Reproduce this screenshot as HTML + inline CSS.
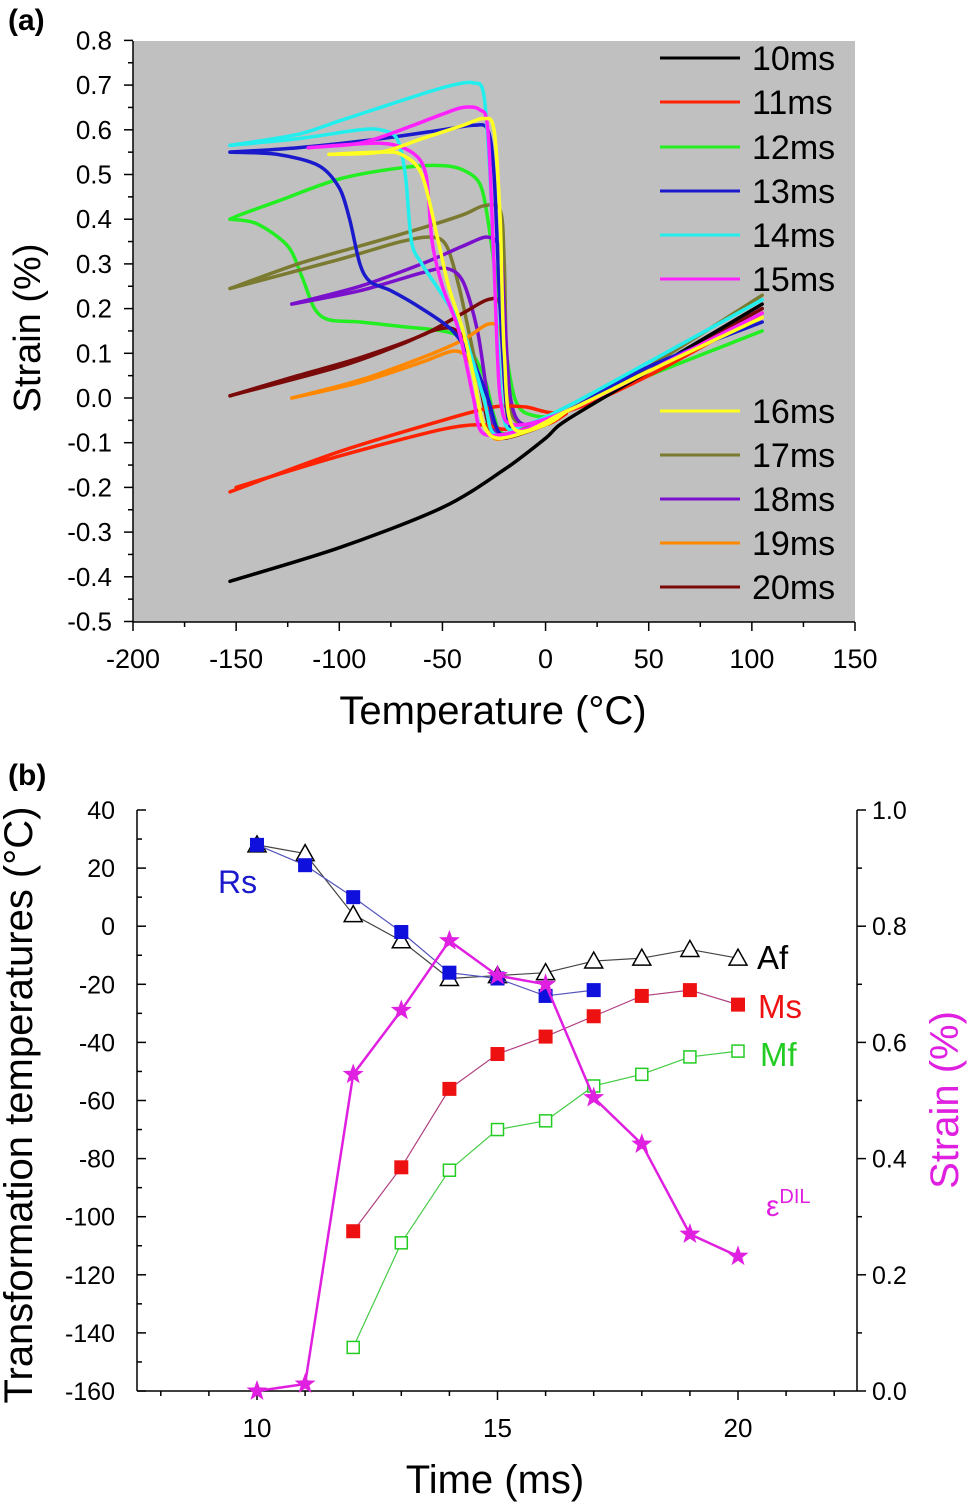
<!DOCTYPE html>
<html><head><meta charset="utf-8">
<style>
body{margin:0;background:#fff;}
svg{display:block;font-family:"Liberation Sans",sans-serif;}
</style></head>
<body>
<svg id="fig" width="969" height="1503" viewBox="0 0 969 1503">
<text x="8" y="30" font-size="30" font-weight="bold">(a)</text>
<text x="8" y="785" font-size="30" font-weight="bold">(b)</text>
<g id="pa"></g>
<g id="pb"></g>
</svg>
<script>
// ---------- Panel (a) data ----------
const aXTicks = [-200,-150,-100,-50,0,50,100,150];
const aYTicks = [0.8,0.7,0.6,0.5,0.4,0.3,0.2,0.1,0.0,-0.1,-0.2,-0.3,-0.4,-0.5];
const aSeriesNames = ["10ms","11ms","12ms","13ms","14ms","15ms","16ms","17ms","18ms","19ms","20ms"];
const aColors = ["#000000","#ff2200","#22ee22","#1a1acc","#22eeee","#ff22ff","#ffff22","#7a7a30","#7a10cc","#ff8800","#7a0a0a"];
const s10 = [[-153,-0.41],[-100,-0.335],[-50,-0.245],[-20,-0.16],[0,-0.09],[10,-0.05],[50,0.06],[105,0.21]];
const s11u = [[-153,-0.21],[-100,-0.12],[-50,-0.05],[-25,-0.02],[-10,-0.02],[10,-0.03],[50,0.05],[105,0.19]];
const s11l = [[-150,-0.2],[-100,-0.13],[-50,-0.07],[-30,-0.06],[-20,-0.07],[0,-0.06],[10,-0.035]];
const s12u = [[-153,0.40],[-148,0.41],[-130,0.44],[-100,0.49],[-70,0.515],[-50,0.52],[-40,0.51],[-32,0.48],[-28,0.4],[-22,0.2],[-15,0.0],[-5,-0.04],[10,-0.03],[50,0.05],[105,0.15]];
const s12l = [[-153,0.40],[-140,0.39],[-125,0.34],[-118,0.27],[-112,0.2],[-105,0.175],[-90,0.17],[-70,0.16],[-50,0.15],[-40,0.13],[-30,0.05],[-25,-0.04],[-20,-0.08],[0,-0.06],[10,-0.03]];
const s13u = [[-153,0.55],[-120,0.56],[-80,0.58],[-50,0.6],[-35,0.61],[-28,0.6],[-25,0.5],[-22,0.2],[-18,-0.05],[-10,-0.06],[10,-0.03],[50,0.07],[105,0.17]];
const s13l = [[-153,0.55],[-130,0.545],[-110,0.52],[-100,0.47],[-95,0.4],[-90,0.3],[-85,0.26],[-75,0.24],[-60,0.2],[-45,0.15],[-35,0.08],[-28,0.0],[-22,-0.08],[-10,-0.07],[10,-0.03]];
const s14u = [[-153,0.565],[-120,0.59],[-100,0.62],[-80,0.65],[-60,0.68],[-45,0.7],[-35,0.705],[-30,0.68],[-27,0.5],[-24,0.2],[-20,-0.05],[-10,-0.06],[10,-0.02],[50,0.08],[105,0.22]];
const s14l = [[-153,0.565],[-120,0.58],[-90,0.6],[-80,0.6],[-72,0.58],[-68,0.5],[-65,0.35],[-60,0.3],[-50,0.23],[-40,0.15],[-30,0.0],[-25,-0.08],[-10,-0.07],[10,-0.03]];
const s15u = [[-115,0.56],[-90,0.57],[-70,0.6],[-50,0.635],[-40,0.65],[-32,0.645],[-28,0.6],[-25,0.3],[-22,0.0],[-15,-0.06],[10,-0.03],[50,0.06],[105,0.19]];
const s15l = [[-115,0.56],[-80,0.57],[-65,0.55],[-58,0.5],[-55,0.35],[-50,0.25],[-42,0.15],[-35,0.0],[-30,-0.08],[-10,-0.07],[10,-0.03]];
const s16u = [[-105,0.545],[-80,0.55],[-60,0.58],[-40,0.61],[-30,0.625],[-25,0.6],[-22,0.4],[-20,0.1],[-15,-0.07],[10,-0.03],[50,0.06],[105,0.18]];
const s16l = [[-105,0.545],[-80,0.55],[-70,0.545],[-60,0.5],[-52,0.35],[-47,0.25],[-40,0.15],[-35,0.05],[-30,-0.06],[-22,-0.09],[0,-0.06],[10,-0.03]];
const s17u = [[-153,0.245],[-120,0.3],[-90,0.34],[-60,0.38],[-40,0.41],[-30,0.43],[-22,0.42],[-20,0.3],[-18,0.0],[-10,-0.06],[10,-0.03],[50,0.07],[105,0.23]];
const s17l = [[-153,0.245],[-100,0.31],[-70,0.35],[-55,0.36],[-48,0.34],[-42,0.25],[-35,0.1],[-30,0.0],[-25,-0.08],[-10,-0.07],[10,-0.03]];
const s18u = [[-123,0.21],[-90,0.25],[-60,0.3],[-40,0.34],[-28,0.36],[-22,0.33],[-20,0.2],[-17,0.0],[-10,-0.06],[10,-0.03],[50,0.06],[105,0.2]];
const s18l = [[-123,0.21],[-90,0.24],[-60,0.28],[-48,0.29],[-40,0.26],[-33,0.15],[-28,0.0],[-24,-0.08],[-10,-0.07],[10,-0.03]];
const s19u = [[-123,0.0],[-90,0.04],[-60,0.09],[-40,0.13],[-28,0.165],[-22,0.15],[-20,0.05],[-18,-0.05],[-10,-0.07],[10,-0.03],[50,0.06],[105,0.18]];
const s19l = [[-123,0.0],[-90,0.035],[-60,0.08],[-45,0.105],[-38,0.09],[-32,0.03],[-28,-0.04],[-25,-0.09],[-15,-0.08],[10,-0.03]];
const s20u = [[-153,0.005],[-120,0.05],[-90,0.09],[-60,0.14],[-40,0.19],[-28,0.22],[-22,0.21],[-20,0.1],[-18,-0.05],[-10,-0.07],[10,-0.03],[50,0.06],[105,0.2]];
const s20l = [[-153,0.005],[-100,0.07],[-70,0.12],[-55,0.15],[-45,0.155],[-38,0.12],[-32,0.03],[-27,-0.07],[-20,-0.09],[0,-0.06],[10,-0.03]];
const aCurves = [[s10],[s11u,s11l],[s12u,s12l],[s13u,s13l],[s14u,s14l],[s15u,s15l],[s16u,s16l],[s17u,s17l],[s18u,s18l],[s19u,s19l],[s20u,s20l]];
const aLegendY = [58,102,147,191,235,279,411,455,499,543,587];

// ---------- Panel (b) data ----------
const bTime = [10,11,12,13,14,15,16,17,18,19,20];
const bAf = [28,25,4,-5,-18,-17,-16,-12,-11,-8,-11];
const bRsT = [10,11,12,13,14,15,16,17];
const bRs = [28,21,10,-2,-16,-18,-24,-22];
const bMsT = [12,13,14,15,16,17,18,19,20];
const bMs = [-105,-83,-56,-44,-38,-31,-24,-22,-27];
const bMf = [-145,-109,-84,-70,-67,-55,-51,-45,-43];
const bStrain = [0,0.012,0.545,0.655,0.775,0.715,0.7,0.505,0.425,0.27,0.232];
const bXTicks = [10,15,20];
const bYTicks = [40,20,0,-20,-40,-60,-80,-100,-120,-140,-160];
const bY2Ticks = [1.0,0.8,0.6,0.4,0.2,0.0];

const NS="http://www.w3.org/2000/svg";
function mk(p,tag,at){const e=document.createElementNS(NS,tag);for(const k in at)e.setAttribute(k,at[k]);p.appendChild(e);return e;}
function smooth(pts){
 let d='M'+pts[0][0].toFixed(1)+','+pts[0][1].toFixed(1);
 const k=0.15;
 for(let i=0;i<pts.length-1;i++){
  const p0=pts[Math.max(0,i-1)],p1=pts[i],p2=pts[i+1],p3=pts[Math.min(pts.length-1,i+2)];
  const c1=[p1[0]+(p2[0]-p0[0])*k,p1[1]+(p2[1]-p0[1])*k];
  const c2=[p2[0]-(p3[0]-p1[0])*k,p2[1]-(p3[1]-p1[1])*k];
  d+=' C'+c1.map(v=>v.toFixed(1)).join(',')+' '+c2.map(v=>v.toFixed(1)).join(',')+' '+p2.map(v=>v.toFixed(1)).join(',');
 }
 return d;
}

// ---- Panel a ----
const pa=document.getElementById('pa');
const ax=t=>133+(t+200)*(855-133)/350;
const ay=v=>398-v*447;
let r=mk(pa,'rect',{x:133,y:41,width:722,height:581,fill:'#c0c0c0'});


mk(pa,'line',{x1:133,y1:41,x2:133,y2:622,stroke:'#000','stroke-width':1.5});
mk(pa,'line',{x1:133,y1:622,x2:855,y2:622,stroke:'#000','stroke-width':1.5});
for(let t=-200;t<=150;t+=25){const maj=t%50===0;mk(pa,'line',{x1:ax(t),y1:622,x2:ax(t),y2:622+(maj?9:5),stroke:'#000','stroke-width':1.5});}
aXTicks.forEach(t=>{const e=mk(pa,'text',{x:ax(t),y:668,'font-size':27,'text-anchor':'middle'});e.textContent=t;
});
for(let i=0;i<=26;i++){const v=-0.5+i*0.05;const maj=i%2===0;mk(pa,'line',{x1:133,y1:ay(v),x2:133-(maj?9:5),y2:ay(v),stroke:'#000','stroke-width':1.5});}
aYTicks.forEach(v=>{const e=mk(pa,'text',{x:112,y:ay(v)+9,'font-size':26,'text-anchor':'end'});e.textContent=v.toFixed(1);
});
let xt=mk(pa,'text',{x:493,y:724,'font-size':40,'text-anchor':'middle'});xt.textContent='Temperature (°C)';

let yt=mk(pa,'text',{x:40,y:328,'font-size':38,'text-anchor':'middle',transform:'rotate(-90 40 328)'});yt.textContent='Strain (%)';

const order=[2,7,8,10,9,1,0,3,4,5,6];
order.forEach(i=>{aCurves[i].forEach(c=>{
 const d=smooth(c.map(p=>[ax(p[0]),ay(p[1])]));
 const e=mk(pa,'path',{d:d,fill:'none',stroke:aColors[i],'stroke-width':3.5,'stroke-linejoin':'round','stroke-linecap':'round'});
 
 
});});
aSeriesNames.forEach((n,i)=>{
 const g=mk(pa,'g',{});
 
 
 mk(g,'line',{x1:660,y1:aLegendY[i],x2:740,y2:aLegendY[i],stroke:aColors[i],'stroke-width':3});
 const t=mk(g,'text',{x:752,y:aLegendY[i]+12,'font-size':34});t.textContent=n;
});

// ---- Panel b ----
const pb=document.getElementById('pb');
const bx=t=>257+(t-10)*48.1;
const by=v=>810+(40-v)*581/200;
const by2=v=>1391-v*581;
mk(pb,'line',{x1:137,y1:810,x2:137,y2:1391,stroke:'#000','stroke-width':1.5});
mk(pb,'line',{x1:857,y1:810,x2:857,y2:1391,stroke:'#000','stroke-width':1.5});
mk(pb,'line',{x1:137,y1:1391,x2:857,y2:1391,stroke:'#000','stroke-width':1.5});
for(let v=-160;v<=40;v+=10){const maj=v%20===0;mk(pb,'line',{x1:137,y1:by(v),x2:137+(maj?9:5),y2:by(v),stroke:'#000','stroke-width':1.5});}
bYTicks.forEach(v=>{const e=mk(pb,'text',{x:115,y:by(v)+9,'font-size':25,'text-anchor':'end'});e.textContent=v;
});
for(let i=0;i<=10;i++){const v=i*0.1;const maj=i%2===0;mk(pb,'line',{x1:857,y1:by2(v),x2:857+(maj?9:5),y2:by2(v),stroke:'#000','stroke-width':1.5});}
bY2Ticks.forEach(v=>{const e=mk(pb,'text',{x:872,y:by2(v)+9,'font-size':25});e.textContent=v.toFixed(1);
});
for(let t=8;t<=22;t++){const maj=t%5===0;mk(pb,'line',{x1:bx(t),y1:1391,x2:bx(t),y2:1391+(maj?9:5),stroke:'#000','stroke-width':1.5});}
bXTicks.forEach(t=>{const e=mk(pb,'text',{x:bx(t),y:1437,'font-size':26,'text-anchor':'middle'});e.textContent=t;
});
let xt2=mk(pb,'text',{x:495,y:1493,'font-size':40,'text-anchor':'middle'});xt2.textContent='Time (ms)';

let yt2=mk(pb,'text',{x:32,y:1105,'font-size':40,'text-anchor':'middle',transform:'rotate(-90 32 1105)'});yt2.textContent='Transformation temperatures (°C)';

let yt3=mk(pb,'text',{x:958,y:1100,'font-size':40,'text-anchor':'middle',fill:'#e020e0',transform:'rotate(-90 958 1100)'});yt3.textContent='Strain (%)';


function series(xs,ys,yf,color,lw,name,marker,fillc){
 const g=mk(pb,'g',{});
 
 
 mk(g,'polyline',{points:xs.map((x,i)=>bx(x)+','+yf(ys[i])).join(' '),fill:'none',stroke:color,'stroke-width':lw});
 xs.forEach((x,i)=>{const cx=bx(x),cy=yf(ys[i]);
  if(marker==='tri')mk(g,'polygon',{points:`${cx},${cy-9} ${cx-9},${cy+7} ${cx+9},${cy+7}`,fill:'#fff',stroke:'#000','stroke-width':1.5});
  else if(marker==='sqf')mk(g,'rect',{x:cx-7,y:cy-7,width:14,height:14,fill:fillc});
  else if(marker==='sqo')mk(g,'rect',{x:cx-6,y:cy-6,width:12,height:12,fill:'#fff',stroke:'#22cc22','stroke-width':1.5});
  else if(marker==='star'){let p=[];for(let k=0;k<10;k++){const rr=k%2?4.5:11;const a=-Math.PI/2+k*Math.PI/5;p.push((cx+rr*Math.cos(a)).toFixed(1)+','+(cy+rr*Math.sin(a)).toFixed(1));}
   mk(g,'polygon',{points:p.join(' '),fill:'#e020e0'});}
 });
}
series(bTime,bAf,by,'#444',1.2,'series-af','tri');
series(bRsT,bRs,by,'#5555bb',1.2,'series-rs','sqf','#1010dd');
series(bMsT,bMs,by,'#b04080',1.2,'series-ms','sqf','#ee1111');
series(bMsT,bMf,by,'#44cc44',1.2,'series-mf','sqo');
series(bTime,bStrain,by2,'#e020e0',2.5,'series-strain','star');

const labs=[["Rs",218,893,'#1a1acc',32],["Af",757,969,'#000',33],["Ms",758,1018,'#ee1111',33],["Mf",760,1066,'#22cc22',33]];
labs.forEach(l=>{const e=mk(pb,'text',{x:l[1],y:l[2],'font-size':l[4],fill:l[3]});e.textContent=l[0];
});
let eps=mk(pb,'text',{x:766,y:1216,'font-size':30,fill:'#e020e0'});

eps.innerHTML='ε<tspan font-size="20" dy="-13">DIL</tspan>';
</script>
</body></html>
